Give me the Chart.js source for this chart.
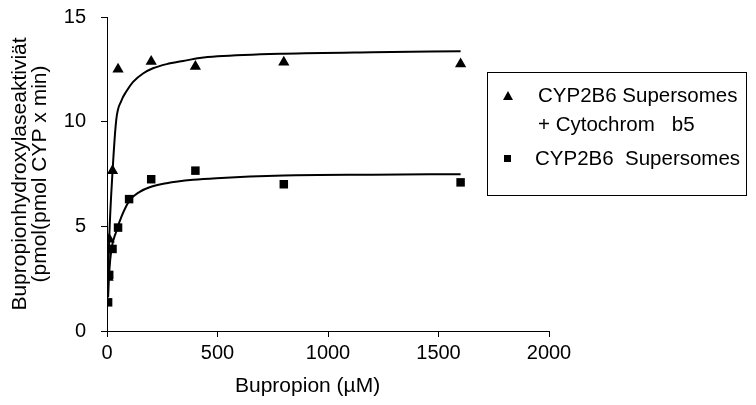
<!DOCTYPE html>
<html>
<head>
<meta charset="utf-8">
<script src="https://cdn.jsdelivr.net/npm/chart.js@4"></script>
<style>
  body { margin: 0; background: #fff; }
  #wrap { position: relative; width: 756px; height: 405px; font-family: "Liberation Sans", Arial, sans-serif; }
  #legend { position: absolute; left: 487px; top: 72px; width: 258px; height: 122px; border: 1px solid #000; font-size: 20.5px; color: #000; }
  #legend div { position: absolute; white-space: pre; }
  .tri { width: 0; height: 0; border-left: 5px solid transparent; border-right: 5px solid transparent; border-bottom: 9px solid #000; }
  .sq { width: 7px; height: 7px; background: #000; }
</style>
</head>
<body>
<div id="wrap">
  <canvas id="chart" width="756" height="405"></canvas>
  <div id="legend">
    <div class="tri" style="left:15px;top:18px"></div>
    <div style="left:50px;top:10px">CYP2B6 Supersomes</div>
    <div style="left:50px;top:39px">+ Cytochrom   b5</div>
    <div class="sq" style="left:16px;top:82px"></div>
    <div style="left:47px;top:73px">CYP2B6  Supersomes</div>
  </div>
</div>
<script>
// Messpunkte (Bupropion in µM)
const b5Conc = [5, 10, 25, 50, 200, 400, 800, 1600];
const b5Act = [2.55, 4.38, 7.65, 12.5, 12.87, 12.63, 12.84, 12.75];
const supConc = [5, 10, 25, 50, 100, 200, 400, 800, 1600];
const supAct = [1.37, 2.68, 3.92, 4.94, 6.3, 7.25, 7.66, 7.01, 7.1];

// Angepasste Kurven
const b5FitX = [5, 10, 25, 42, 65, 88, 118, 163, 208, 270, 345, 420, 500, 800, 1200, 1600];
const b5FitY = [2.4, 4.4, 7.6, 10.1, 11.0, 11.45, 11.9, 12.3, 12.55, 12.75, 12.9, 13.04, 13.12, 13.25, 13.32, 13.36];
const supFitX = [5, 10, 20, 42, 65, 103, 148, 193, 270, 390, 495, 800, 1200, 1600];
const supFitY = [1.6, 2.8, 3.9, 4.75, 5.45, 6.25, 6.65, 6.87, 7.06, 7.22, 7.3, 7.43, 7.47, 7.49];

const xTicks = [0, 500, 1000, 1500, 2000];
const yTicks = [0, 5, 10, 15];

const pts = (xs, ys) => xs.map((x, i) => ({ x: x, y: ys[i] }));

const font = { family: '"Liberation Sans", Arial, sans-serif', size: 20 };

new Chart(document.getElementById('chart'), {
  type: 'scatter',
  data: {
    datasets: [
      {
        label: 'CYP2B6 Supersomes + Cytochrom b5',
        data: pts(b5Conc, b5Act),
        pointStyle: 'triangle',
        pointRadius: 6.5,
        backgroundColor: '#000',
        borderColor: '#000',
        borderWidth: 0
      },
      {
        label: 'CYP2B6 Supersomes',
        data: pts(supConc, supAct),
        pointStyle: 'rect',
        pointRadius: 6,
        backgroundColor: '#000',
        borderColor: '#000',
        borderWidth: 0
      },
      {
        type: 'line',
        data: pts(b5FitX, b5FitY),
        borderColor: '#000',
        borderWidth: 2,
        pointRadius: 0,
        cubicInterpolationMode: 'monotone',
        fill: false
      },
      {
        type: 'line',
        data: pts(supFitX, supFitY),
        borderColor: '#000',
        borderWidth: 2,
        pointRadius: 0,
        cubicInterpolationMode: 'monotone',
        fill: false
      }
    ]
  },
  options: {
    responsive: false,
    animation: false,
    layout: { padding: { left: 0, right: 207, top: 17, bottom: 0 } },
    plugins: { legend: { display: false }, tooltip: { enabled: false } },
    scales: {
      x: {
        type: 'linear',
        min: 0, max: 2000,
        afterBuildTicks: s => { s.ticks = xTicks.map(v => ({ value: v })); },
        afterFit: s => { s.height = 74; },
        grid: { drawOnChartArea: false, drawTicks: true, tickLength: 6, color: '#000' },
        border: { color: '#000', width: 1 },
        ticks: { color: '#000', font: font, padding: 4, maxRotation: 0, callback: v => String(v) },
        // trailing spaces nudge the title a little to the left like the original
        title: { display: true, text: 'Bupropion (µM)       ', color: '#000', font: { family: font.family, size: 21 }, padding: { top: 4, bottom: 6 } }
      },
      y: {
        min: 0, max: 15,
        afterBuildTicks: s => { s.ticks = yTicks.map(v => ({ value: v })); },
        // the wide label gap would otherwise push the plot top down
        afterFit: s => { s.width = 107; s.paddingTop = 10; s.paddingBottom = 10; },
        grid: { drawOnChartArea: false, drawTicks: true, tickLength: 6, color: '#000' },
        border: { color: '#000', width: 1 },
        ticks: { color: '#000', font: font, padding: 15, callback: v => String(v) },
        title: {
          display: true,
          text: ['Bupropionhydroxylaseaktiviät', '(pmol(pmol CYP x min)'],
          color: '#000',
          font: { family: font.family, size: 21, lineHeight: 0.95 },
          padding: { top: 10, bottom: 4 }
        }
      }
    }
  }
});
</script>
</body>
</html>
